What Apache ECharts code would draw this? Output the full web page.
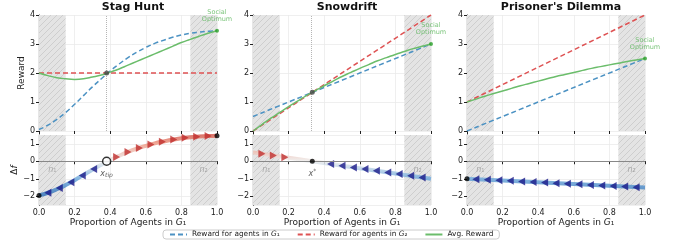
<!DOCTYPE html>
<html>
<head>
<meta charset="utf-8">
<script src="https://cdn.jsdelivr.net/npm/echarts@6/dist/echarts.min.js"></script>
<style>html,body{margin:0;padding:0;background:#fff}#main{width:677px;height:250px}</style>
</head>
<body>
<div id="main"></div>
<script>
// x grid of the curves
var xs = [0,0.05,0.1,0.15,0.2,0.25,0.3,0.35,0.4,0.45,0.5,0.55,0.6,0.65,0.7,0.75,0.8,0.85,0.9,0.95,1];
var xEnds = [0, 1];

// Stag Hunt
var stagG1  = [0.05,0.2,0.4,0.64,0.92,1.22,1.52,1.8,2.07,2.31,2.53,2.72,2.88,3.02,3.13,3.23,3.31,3.37,3.41,3.44,3.46];
var stagG2  = [2, 2];
var stagAvg = [2,1.91,1.84,1.8,1.78,1.8,1.86,1.93,2.03,2.14,2.27,2.4,2.53,2.66,2.79,2.92,3.05,3.16,3.27,3.37,3.46];
var stagDf  = [-1.95,-1.8,-1.6,-1.36,-1.08,-0.78,-0.48,-0.2,0.07,0.31,0.53,0.72,0.88,1.02,1.13,1.23,1.31,1.37,1.41,1.44,1.46];
var stagLeftX  = [0.05,0.114,0.179,0.243,0.307];
var stagLeftY  = [-1.8,-1.53,-1.2,-0.82,-0.44];
var stagRightX = [0.436,0.5,0.564,0.629,0.693,0.757,0.821,0.886,0.95];
var stagRightY = [0.24,0.53,0.76,0.96,1.12,1.24,1.34,1.4,1.44];

// Snowdrift
var snowG1  = [0.5, 3.0];
var snowG2  = [0, 4];
var snowAvg = [0,0.22,0.44,0.64,0.84,1.03,1.22,1.39,1.56,1.72,1.88,2.02,2.16,2.29,2.42,2.53,2.64,2.74,2.84,2.92,3.0];
var snowDf  = [0.5, -1];
var snowLeftX  = [0.436,0.5,0.564,0.629,0.693,0.757,0.821,0.886,0.95];
var snowLeftY  = [-0.15,-0.25,-0.35,-0.44,-0.54,-0.64,-0.73,-0.83,-0.93];
var snowRightX = [0.05,0.114,0.179];
var snowRightY = [0.43,0.33,0.23];

// Prisoner's Dilemma
var pdG1  = [0, 2.5];
var pdG2  = [1, 4];
var pdAvg = [1,1.1,1.2,1.29,1.38,1.47,1.56,1.64,1.72,1.8,1.88,1.95,2.02,2.09,2.16,2.22,2.28,2.34,2.4,2.45,2.5];
var pdDf  = [-1, -1.5];
var pdLeftX = [0.05,0.114,0.179,0.243,0.307,0.371,0.436,0.5,0.564,0.629,0.693,0.757,0.821,0.886,0.95];
var pdLeftY = [-1.03,-1.06,-1.09,-1.12,-1.15,-1.19,-1.22,-1.25,-1.28,-1.31,-1.35,-1.38,-1.41,-1.44,-1.48];

// special points
var stagEq = [0.38, 2.0],  snowEq = [0.333, 1.333];
var stagOpt = [1, 3.46], snowOpt = [1, 3.0], pdOpt = [1, 2.5];
var stagEnds = [[0, -1.95], [1, 1.46]];
var stagTip = [0.38, 0], snowStar = [0.333, 0];
var pdEnds = [[0, -1]];
var shadeL = [0, 0.15], shadeR = [0.85, 1];

var BLUE = '#4c92c3', RED = '#de5253', GREEN = '#6bbd6b';
var FONT = 'DejaVu Sans';

function zip(a, b) { return a.map(function (v, i) { return [v, b[i]]; }); }
function minus(v) { return String(v).replace('-', '\u2212'); }

// hatch pattern for the shaded bands
var hc = document.createElement('canvas');
hc.width = 6; hc.height = 6;
var hg = hc.getContext('2d');
hg.fillStyle = '#e4e4e4'; hg.fillRect(0, 0, 6, 6);
hg.strokeStyle = '#c8c8c8'; hg.lineWidth = 0.8;
hg.beginPath();
hg.moveTo(0, 6); hg.lineTo(6, 0);
hg.moveTo(-3, 3); hg.lineTo(3, -3);
hg.moveTo(3, 9); hg.lineTo(9, 3);
hg.stroke();
var hatch = { image: hc, repeat: 'repeat' };

var panels = [
  { title: 'Stag Hunt', left: 39, g1x: xs, g1: stagG1, g2x: xEnds, g2: stagG2, avg: stagAvg,
    dfx: xs, df: stagDf, lx: stagLeftX, ly: stagLeftY, rx: stagRightX, ry: stagRightY,
    eq: stagEq, opt: stagOpt, dots: stagEnds, open: stagTip, lab: '{ii|x}{ss|tip}' },
  { title: 'Snowdrift', left: 253, g1x: xEnds, g1: snowG1, g2x: xEnds, g2: snowG2, avg: snowAvg,
    dfx: xEnds, df: snowDf, lx: snowLeftX, ly: snowLeftY, rx: snowRightX, ry: snowRightY,
    eq: snowEq, opt: snowOpt, dots: [snowStar], open: null, lab: '{ii|x}{pp|*}' },
  { title: "Prisoner's Dilemma", left: 467, g1x: xEnds, g1: pdG1, g2x: xEnds, g2: pdG2, avg: pdAvg,
    dfx: xEnds, df: pdDf, lx: pdLeftX, ly: pdLeftY, rx: [], ry: [],
    eq: null, opt: pdOpt, dots: pdEnds, open: null, lab: null }
];

var grids = [], xAxes = [], yAxes = [], series = [], titles = [], vmaps = [];
var W = 178;

function shadeSeries(g) {
  return { type: 'line', xAxisIndex: g, yAxisIndex: g, data: [], silent: true, z: 1,
    markArea: { silent: true, itemStyle: { color: hatch }, data: [
      [{ xAxis: shadeL[0] }, { xAxis: shadeL[1] }], [{ xAxis: shadeR[0] }, { xAxis: shadeR[1] }]] } };
}

var labRich = {
  i: { fontFamily: FONT, fontSize: 8, fontStyle: 'italic', color: '#999' },
  s: { fontFamily: FONT, fontSize: 8, color: '#999' },
  ii: { fontFamily: FONT, fontSize: 8, fontStyle: 'italic', color: '#333' },
  ss: { fontFamily: FONT, fontSize: 6, fontStyle: 'italic', color: '#333', padding: [4, 0, 0, 0] },
  pp: { fontFamily: FONT, fontSize: 6, color: '#333', padding: [0, 0, 4, 0] }
};

panels.forEach(function (p, k) {
  var gt = 2 * k, gb = 2 * k + 1;
  titles.push({ text: p.title, left: p.left + W / 2, top: -3, textAlign: 'center',
    textStyle: { fontFamily: FONT, fontSize: 11, fontWeight: 'bold', color: '#111' } });
  grids.push({ left: p.left, top: 15, width: W, height: 116 });
  grids.push({ left: p.left, top: 135, width: W, height: 70 });

  var xBase = { type: 'value', min: 0, max: 1, interval: 0.2,
    splitLine: { show: true, lineStyle: { color: '#ebebeb', width: 0.8 } },
    axisTick: { show: true, length: 3, lineStyle: { color: '#222' } } };
  xAxes.push(Object.assign({}, xBase, { gridIndex: gt, axisLine: { show: false },
    axisLabel: { show: false } }));
  xAxes.push(Object.assign({}, xBase, { gridIndex: gb,
    axisLine: { show: true, lineStyle: { color: '#222', width: 1 } },
    axisLabel: { fontFamily: FONT, fontSize: 8, color: '#222', margin: 4,
      formatter: function (v) { return v.toFixed(1); } },
    name: '{t|Proportion of Agents in }{g|G}{t|\u2081}', nameLocation: 'middle', nameGap: 13,
    nameTextStyle: { rich: { t: { fontFamily: FONT, fontSize: 9, color: '#222' },
      g: { fontFamily: FONT, fontSize: 9, fontStyle: 'italic', color: '#222' } } } }));

  var yTop = { gridIndex: gt, type: 'value', min: 0, max: 4, interval: 1,
    axisLine: { show: true, lineStyle: { color: '#111', width: 1.2 } },
    axisTick: { show: true, length: 3, lineStyle: { color: '#222' } },
    axisLabel: { fontFamily: FONT, fontSize: 8, color: '#222', margin: 4 },
    splitLine: { show: true, lineStyle: { color: '#ebebeb', width: 0.8 } } };
  if (k === 0) {
    yTop.name = 'Reward'; yTop.nameLocation = 'middle'; yTop.nameGap = 11;
    yTop.nameTextStyle = { fontFamily: FONT, fontSize: 9, color: '#222' };
  }
  yAxes.push(yTop);
  var yBot = { gridIndex: gb, type: 'value', min: -2.5, max: 1.5,
    axisLine: { show: true, lineStyle: { color: '#111', width: 1.2 } },
    axisTick: { show: true, length: 3, lineStyle: { color: '#222' } },
    axisLabel: { fontFamily: FONT, fontSize: 8, color: '#222', margin: 4,
      showMinLabel: false, showMaxLabel: false, formatter: minus },
    splitLine: { show: true, lineStyle: { color: '#ebebeb', width: 0.8 } } };
  if (k === 0) {
    yBot.name = '{d|\u0394}{f|f}'; yBot.nameLocation = 'middle'; yBot.nameGap = 10;
    yBot.nameTextStyle = { rich: { d: { fontFamily: FONT, fontSize: 9, color: '#222' },
      f: { fontFamily: FONT, fontSize: 9, fontStyle: 'italic', color: '#222' } } };
  }
  yAxes.push(yBot);

  // top panel
  series.push(shadeSeries(gt));
  series.push({ name: 'Reward for agents in G1', type: 'line', xAxisIndex: gt, yAxisIndex: gt,
    data: zip(p.g1x, p.g1), smooth: true, symbol: 'none', z: 3,
    lineStyle: { color: BLUE, width: 1.5, type: [5, 3] }, itemStyle: { color: BLUE } });
  series.push({ name: 'Reward for agents in G2', type: 'line', xAxisIndex: gt, yAxisIndex: gt,
    data: zip(p.g2x, p.g2), symbol: 'none', z: 3,
    lineStyle: { color: RED, width: 1.5, type: [5, 3] }, itemStyle: { color: RED } });
  series.push({ name: 'Avg. Reward', type: 'line', xAxisIndex: gt, yAxisIndex: gt,
    data: zip(xs, p.avg), smooth: true, symbol: 'none', z: 3,
    lineStyle: { color: GREEN, width: 1.5 }, itemStyle: { color: GREEN } });
  if (p.eq) {
    series.push({ type: 'scatter', xAxisIndex: gt, yAxisIndex: gt, data: [p.eq], z: 5,
      symbolSize: 5, itemStyle: { color: '#444' },
      markLine: { silent: true, symbol: 'none', label: { show: false },
        lineStyle: { color: '#b5b5b5', type: 'dotted', width: 1 }, data: [{ xAxis: p.eq[0] }] } });
  }
  series.push({ type: 'scatter', xAxisIndex: gt, yAxisIndex: gt, data: [p.opt], z: 5,
    symbolSize: 4, itemStyle: { color: '#2ca02c' },
    label: { show: true, position: 'top', distance: 6, formatter: 'Social\nOptimum',
      fontFamily: FONT, fontSize: 6.5, lineHeight: 7, color: '#5cb85c' } });

  // bottom panel
  series.push(shadeSeries(gb));
  series.push({ type: 'line', xAxisIndex: gb, yAxisIndex: gb, data: [], silent: true,
    markLine: { silent: true, symbol: 'none', label: { show: false },
      lineStyle: { color: '#888', type: 'solid', width: 1.2 }, data: [{ yAxis: 0 }] } });
  var di = series.length;
  series.push({ type: 'line', xAxisIndex: gb, yAxisIndex: gb, data: zip(p.dfx, p.df),
    smooth: true, symbol: 'none', z: 3, lineStyle: { width: 4, opacity: 0.85 } });
  vmaps.push({ type: 'continuous', show: false, seriesIndex: di, dimension: 1, min: -2, max: 2,
    inRange: { color: ['#3473b8', '#6fa9db', '#eeeeee', '#ee9a85', '#c42b27'] } });
  series.push({ type: 'scatter', xAxisIndex: gb, yAxisIndex: gb, data: zip(p.lx, p.ly), z: 4,
    symbol: 'triangle', symbolSize: [8, 7], symbolRotate: 90, itemStyle: { color: '#1a1a8a' } });
  series.push({ type: 'scatter', xAxisIndex: gb, yAxisIndex: gb, data: zip(p.rx, p.ry), z: 4,
    symbol: 'triangle', symbolSize: [8, 7], symbolRotate: -90, itemStyle: { color: '#c0302e' } });
  series.push({ type: 'scatter', xAxisIndex: gb, yAxisIndex: gb, data: p.dots, z: 5,
    symbolSize: 5, itemStyle: { color: '#000' } });
  if (p.open) {
    series.push({ type: 'scatter', xAxisIndex: gb, yAxisIndex: gb, data: [p.open], z: 6,
      symbolSize: 8, itemStyle: { color: '#fff', borderColor: '#000', borderWidth: 1.5 } });
  }
  var labs = [{ value: [0.075, -0.5], label: { formatter: '{i|n}{s|\u2081}' } },
              { value: [0.925, -0.5], label: { formatter: '{i|n}{s|\u2082}' } }];
  if (p.lab) {
    var src = p.open || p.dots[0];
    labs.push({ value: [src[0], -0.72], label: { formatter: p.lab } });
  }
  series.push({ type: 'scatter', xAxisIndex: gb, yAxisIndex: gb, data: labs, z: 6,
    symbol: 'circle', symbolSize: 1, itemStyle: { color: 'rgba(0,0,0,0)' }, silent: true,
    label: { show: true, position: 'inside', rich: labRich } });
});

var chart = echarts.init(document.getElementById('main'));
chart.setOption({
  animation: false,
  title: titles,
  grid: grids,
  xAxis: xAxes,
  yAxis: yAxes,
  visualMap: vmaps,
  legend: {
    data: ['Reward for agents in G1', 'Reward for agents in G2', 'Avg. Reward'],
    left: 163, top: 230, itemWidth: 17, itemHeight: 8, itemGap: 17,
    padding: [1, 6], borderColor: '#ccc', borderWidth: 1, borderRadius: 3,
    itemStyle: { opacity: 0 },
    formatter: function (n) {
      if (n === 'Avg. Reward') return '{t|Avg. Reward}';
      return '{t|Reward for agents in }{g|G}{t|' + (n.slice(-1) === '1' ? '\u2081' : '\u2082') + '}';
    },
    textStyle: { rich: { t: { fontFamily: FONT, fontSize: 7.4, color: '#222' },
      g: { fontFamily: FONT, fontSize: 7.4, fontStyle: 'italic', color: '#222' } } }
  },
  series: series
});
</script>
</body>
</html>
